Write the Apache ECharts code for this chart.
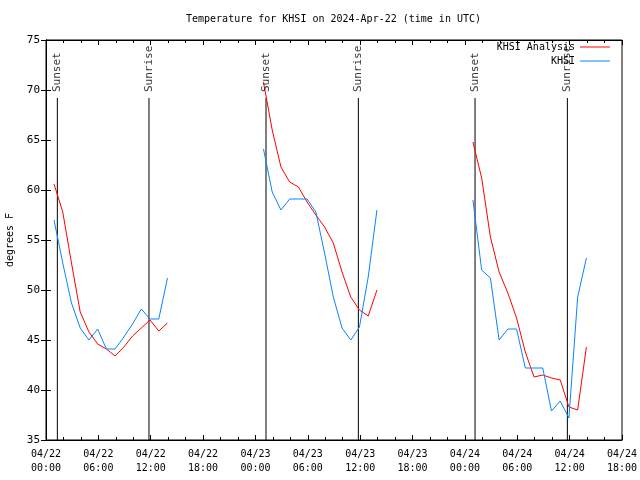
<!DOCTYPE html>
<html>
<head>
<meta charset="utf-8">
<script src="https://cdn.jsdelivr.net/npm/echarts@6/dist/echarts.min.js"></script>
<style>html,body{margin:0;padding:0;background:#fff;}#c{width:640px;height:480px;}</style>
</head>
<body>
<div id="c"></div>
<script>
// hours since 2024-04-22 00:00 UTC
const timesDay1 = [0.92, 1.92, 2.92, 3.92, 4.92, 5.92, 6.92, 7.92, 8.92, 9.92, 10.92, 11.92, 12.92, 13.92];
const timesDay2 = [24.92, 25.92, 26.92, 27.92, 28.92, 29.92, 30.92, 31.92, 32.92, 33.92, 34.92, 35.92, 36.92, 37.92];
const timesDay3 = [48.92, 49.92, 50.92, 51.92, 52.92, 53.92, 54.92, 55.92, 56.92, 57.92, 58.92, 59.92, 60.92, 61.92];

const analysisDay1 = [60.6, 57.8, 52.7, 47.8, 45.8, 44.6, 44.1, 43.4, 44.3, 45.4, 46.2, 47.0, 45.9, 46.7];
const analysisDay2 = [70.8, 66.0, 62.3, 60.8, 60.3, 58.8, 57.5, 56.3, 54.7, 51.8, 49.3, 48.0, 47.4, 50.0];
const analysisDay3 = [64.8, 61.2, 55.3, 51.8, 49.7, 47.2, 43.8, 41.3, 41.5, 41.2, 41.0, 38.3, 38.0, 44.3];

const obsDay1 = [57.0, 52.7, 48.7, 46.2, 45.0, 46.1, 44.1, 44.1, 45.3, 46.6, 48.1, 47.1, 47.1, 51.2];
const obsDay2 = [64.1, 59.8, 58.0, 59.1, 59.1, 59.1, 57.8, 53.7, 49.3, 46.2, 45.0, 46.3, 51.3, 58.0];
const obsDay3 = [59.0, 52.0, 51.2, 45.0, 46.1, 46.1, 42.2, 42.2, 42.2, 37.9, 38.9, 37.2, 49.3, 53.2];

const sunsetHours = [1.3, 25.21, 49.16];
const sunriseHours = [11.8, 35.79, 59.74];

const tickLabels = ['04/22\n00:00','04/22\n06:00','04/22\n12:00','04/22\n18:00',
  '04/23\n00:00','04/23\n06:00','04/23\n12:00','04/23\n18:00',
  '04/24\n00:00','04/24\n06:00','04/24\n12:00','04/24\n18:00'];

const FONT = 'DejaVu Sans Mono';
const RED = '#ff0000', BLUE = '#0a84ff';

function joinSegments(timeSets, valueSets) {
  const out = [];
  timeSets.forEach((ts, i) => {
    if (i > 0) out.push([ts[0] - 0.5, null]);
    ts.forEach((t, j) => out.push([t, valueSets[i][j]]));
  });
  return out;
}

const analysisData = joinSegments([timesDay1, timesDay2, timesDay3], [analysisDay1, analysisDay2, analysisDay3]);
const obsData = joinSegments([timesDay1, timesDay2, timesDay3], [obsDay1, obsDay2, obsDay3]);

const sunLineTop = 69.2, sunLabelY = 69.8, yMin = 35, yMax = 75;

const series = [
  { name: 'KHSI Analysis', type: 'line', data: analysisData, symbol: 'none', connectNulls: false,
    lineStyle: { color: RED, width: 1 }, itemStyle: { color: RED }, z: 3 },
  { name: 'KHSI', type: 'line', data: obsData, symbol: 'none', connectNulls: false,
    lineStyle: { color: BLUE, width: 1 }, itemStyle: { color: BLUE }, z: 4 }
];

const sunEvents = [];
sunsetHours.forEach(h => sunEvents.push([h, 'Sunset']));
sunriseHours.forEach(h => sunEvents.push([h, 'Sunrise']));
sunEvents.forEach(([h, name]) => {
  series.push({ type: 'line', data: [[h, sunLineTop], [h, yMin]], symbol: 'none', silent: true,
    lineStyle: { color: '#000', width: 1 }, z: 2 });
});
series.push({
  type: 'scatter', symbolSize: 0, silent: true, z: 5,
  data: sunEvents.map(([h, name]) => [h, sunLabelY, name]),
  label: { show: true, position: 'inside', rotate: 90, align: 'left', verticalAlign: 'middle',
    formatter: p => p.value[2], fontFamily: FONT, fontSize: 11, color: '#000' }
});

const legendCommon = { orient: 'vertical', align: 'right', right: 30, itemWidth: 30, itemHeight: 1,
  icon: 'rect', padding: 0, textStyle: { fontFamily: FONT, fontSize: 10, color: '#000' } };

const xCommon = {
  type: 'value', min: 0, max: 66, interval: 6,
  axisLine: { show: true, lineStyle: { color: '#000', width: 1 } },
  axisTick: { show: true, inside: true, length: 5, lineStyle: { color: '#000' } },
  minorTick: { show: true, splitNumber: 3, length: 3, lineStyle: { color: '#000' } },
  splitLine: { show: false }
};
const yCommon = {
  type: 'value', min: yMin, max: yMax, interval: 5,
  axisLine: { show: true, lineStyle: { color: '#000', width: 1 } },
  axisTick: { show: true, inside: true, length: 5, lineStyle: { color: '#000' } },
  splitLine: { show: false }
};

const chart = echarts.init(document.getElementById('c'), null, { renderer: 'canvas' });
chart.setOption({
  animation: false,
  backgroundColor: '#fff',
  title: { text: 'Temperature for KHSI on 2024-Apr-22 (time in UTC)', left: 186, top: 14, padding: 0,
    textStyle: { fontFamily: FONT, fontSize: 10, fontWeight: 'normal', color: '#000' } },
  legend: [
    Object.assign({}, legendCommon, { data: ['KHSI Analysis'], top: 42 }),
    Object.assign({}, legendCommon, { data: ['KHSI'], top: 56 })
  ],
  grid: { left: 46, right: 18, top: 40, bottom: 40, show: true, borderColor: '#000', borderWidth: 1,
    containLabel: false, outerBoundsMode: 'none' },
  xAxis: [
    Object.assign({}, xCommon, { position: 'bottom',
      axisLabel: { margin: 7, lineHeight: 14, fontFamily: FONT, fontSize: 10, color: '#000',
        formatter: v => tickLabels[Math.round(v / 6)] } }),
    Object.assign({}, xCommon, { position: 'top', axisLabel: { show: false } })
  ],
  yAxis: [
    Object.assign({}, yCommon, { position: 'left', name: 'degrees F', nameLocation: 'middle', nameGap: 31,
      nameTextStyle: { fontFamily: FONT, fontSize: 10, color: '#000' },
      axisLabel: { margin: 6, fontFamily: FONT, fontSize: 11, color: '#000' } }),
    Object.assign({}, yCommon, { position: 'right', axisLabel: { show: false } })
  ],
  series: series
});
</script>
</body>
</html>
